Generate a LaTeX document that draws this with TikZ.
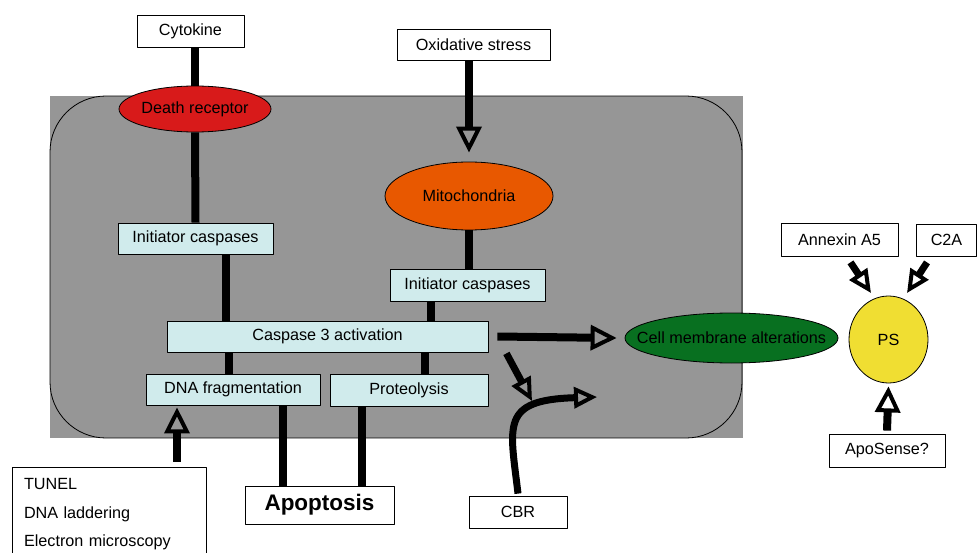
\documentclass[tikz,border=0pt]{standalone}
\usepackage{fontspec}
\setmainfont{Liberation Sans}
\usetikzlibrary{shapes.geometric,arrows.meta}
\definecolor{cellgray}{RGB}{150,150,150}
\definecolor{boxcyan}{RGB}{208,235,236}
\definecolor{drred}{RGB}{216,26,26}
\definecolor{mitoorange}{RGB}{232,88,0}
\definecolor{memgreen}{RGB}{8,112,32}
\definecolor{psyellow}{RGB}{240,222,50}
\begin{document}
\begin{tikzpicture}[x=1pt,y=-1pt,line join=round,
    font=\fontsize{16.2}{18}\selectfont,
    whitebox/.style={draw,fill=white,line width=0.8pt,inner sep=0pt},
    stepbox/.style={draw,fill=boxcyan,line width=0.8pt,inner sep=0pt,minimum height=31pt},
    blob/.style={ellipse,draw,line width=0.8pt,inner sep=0pt},
    link/.style={line width=8pt},
    hit/.style={line width=8pt,-{Triangle[open,length=26pt,width=25pt,line width=4pt]}},
    thin hit/.style={line width=7pt,-{Triangle[open,length=23pt,width=21pt,line width=4pt]}}]
\useasboundingbox (0,0) rectangle (977,553);
\fill[cellgray] (50,96) rectangle (743,438);
\draw[line width=0.8pt,rounded corners=56pt] (50,96) rectangle (742,438);

\node[whitebox,minimum width=107pt,minimum height=32pt] (cyto) at (190.5,31) {Cytokine};
\node[whitebox,minimum width=153pt,minimum height=31pt] (oxi) at (473.5,44.5) {Oxidative stress};
\node[blob,fill=drred,minimum width=152pt,minimum height=46pt] (dr) at (195,109) {Death receptor};
\node[blob,fill=mitoorange,minimum width=168pt,minimum height=68pt] (mito) at (469,196) {Mitochondria};
\node[stepbox,minimum width=155pt] (ini1) at (195.5,238.5) {Initiator caspases};
\node[stepbox,minimum width=155pt,minimum height=32pt] (ini2) at (467.5,285) {Initiator caspases};
\node[stepbox,minimum width=321pt] (casp) at (327.5,336.5) {Caspase 3 activation};
\node[stepbox,minimum width=174pt] (dna) at (233,389.5) {DNA fragmentation};
\node[stepbox,minimum width=158pt,minimum height=32pt] (prot) at (409,390) {Proteolysis};
\node[whitebox,minimum width=149pt,minimum height=38pt,font=\fontsize{22.5}{26}\selectfont\bfseries] (apo) at (319.5,505) {Apoptosis};
\node[whitebox,minimum width=194pt,minimum height=95pt,text width=170pt,align=left,
    font=\fontsize{16.2}{28.5}\selectfont] (tunel) at (109,514.5) {TUNEL\\DNA laddering\\Electron microscopy};
\node[whitebox,minimum width=98pt,minimum height=32pt] (cbr) at (518,512) {CBR};
\node[blob,fill=memgreen,minimum width=213pt,minimum height=50pt] (cma) at (731.5,338) {\makebox[0pt]{Cell membrane alterations}};
\node[blob,fill=psyellow,minimum width=79pt,minimum height=87pt] (ps) at (888.5,339.5) {PS};
\node[whitebox,minimum width=117pt,minimum height=33pt] (ann) at (839.5,239.5) {Annexin A5};
\node[whitebox,minimum width=60pt,minimum height=32pt] (c2a) at (946.5,240) {C2A};
\node[whitebox,minimum width=116pt,minimum height=33pt] (aps) at (887,450.5) {ApoSense?};

\coordinate (cbrtip) at (532,401);
\coordinate (memtip) at (597,397);
\coordinate (psA) at (871,293);
\coordinate (psC) at (907,293);

\draw[link] (cyto.south -| dr.north) -- (dr.north);
\draw[link] (dr.south) -- (ini1.north);
\draw[hit] (oxi.south -| mito.north) -- ([yshift=9pt]mito.north);
\draw[link] (mito.south) -- (mito.south |- ini2.north);
\draw[link] ([xshift=30pt]ini1.south) -- ([xshift=30pt]ini1.south |- casp.north);
\draw[link] ([xshift=-37pt]ini2.south) -- ([xshift=-37pt]ini2.south |- casp.north);
\draw[link] ([xshift=-4pt]dna.north |- casp.south) -- ([xshift=-4pt]dna.north);
\draw[link] ([xshift=16pt]prot.north |- casp.south) -- ([xshift=16pt]prot.north);
\draw[link] ([xshift=50pt]dna.south) -- ([xshift=50pt]dna.south |- apo.north);
\draw[link] ([xshift=-47pt]prot.south) -- ([xshift=-47pt]prot.south |- apo.north);
\draw[hit] ([xshift=68pt,yshift=5pt]tunel.north) -- ([xshift=-56pt,yshift=-2pt]dna.south);
\draw[hit] ([xshift=9pt]casp.east) -- ([xshift=-8pt]cma.west);
\draw[thin hit] ([xshift=18pt,yshift=-1pt]casp.south east) -- (cbrtip);
\draw[thin hit] ([yshift=2pt]cbr.north) .. controls (510,425) and (500,400) .. (memtip);
\draw[thin hit] ([shift={(11pt,-6pt)}]ann.south) -- (psA);
\draw[thin hit] ([shift={(-19.5pt,-6pt)}]c2a.south) -- (psC);
\draw[hit] ([yshift=3pt]aps.north) -- ([yshift=-3pt]ps.south);
\end{tikzpicture}
\end{document}
